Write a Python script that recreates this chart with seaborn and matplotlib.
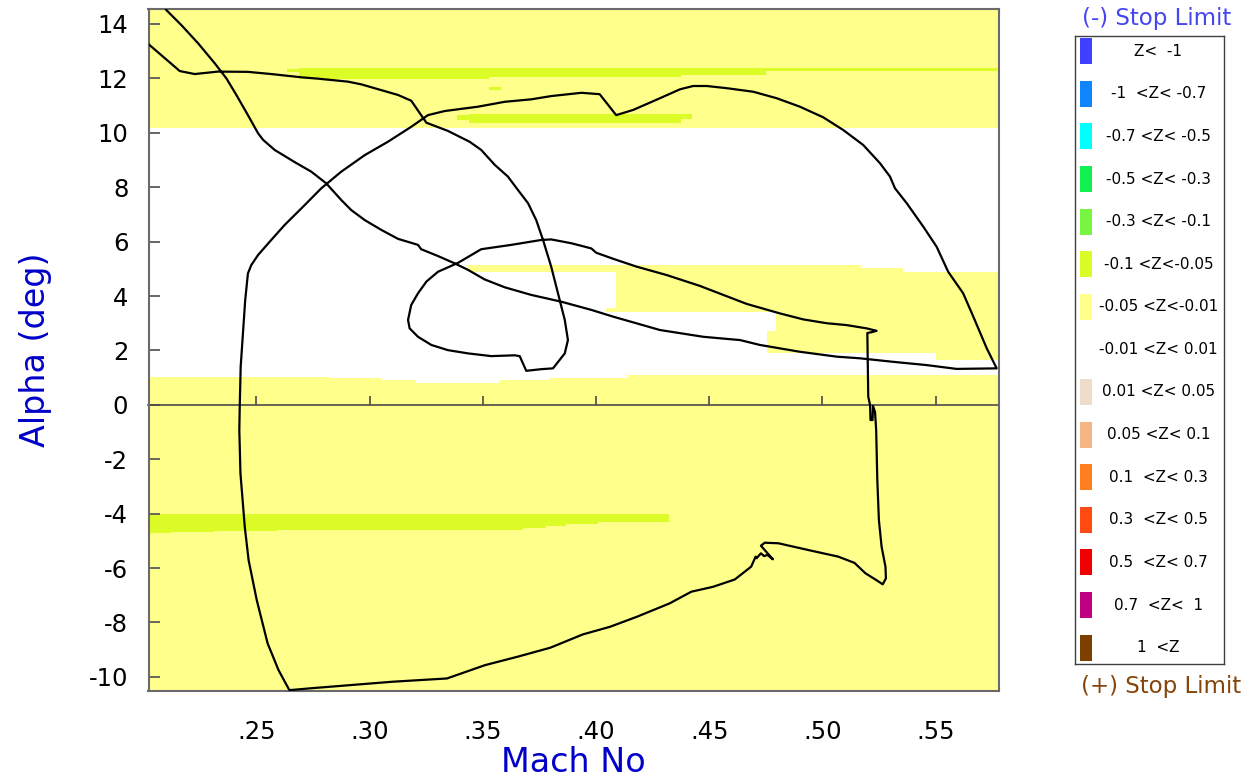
import numpy as np
import matplotlib
matplotlib.use("Agg")
import matplotlib.pyplot as plt
from matplotlib.colors import ListedColormap, BoundaryNorm
from matplotlib.patches import Rectangle
import seaborn as sns

# ---------------------------------------------------------------------------
# Flight trajectory in the Mach / angle-of-attack plane (time ordered)
# ---------------------------------------------------------------------------
mach = [
    0.2010, 0.2162, 0.2228, 0.2331, 0.2463, 0.2566, 0.2699, 0.2772, 0.2905, 0.2964,
    0.3052, 0.3126, 0.3184, 0.3251, 0.3346, 0.3442, 0.3493, 0.3553, 0.3611, 0.3655,
    0.3700, 0.3736, 0.3766, 0.3802, 0.3832, 0.3862, 0.3876, 0.3862, 0.3810, 0.3758,
    0.3692, 0.3663, 0.3641, 0.3538, 0.3435, 0.3346, 0.3273, 0.3214, 0.3177, 0.3170,
    0.3184, 0.3214, 0.3251, 0.3302, 0.3391, 0.3493, 0.3626, 0.3758, 0.3802, 0.3891,
    0.3979, 0.4001, 0.4082, 0.4179, 0.4312, 0.4459, 0.4562, 0.4665, 0.4812, 0.4915,
    0.5018, 0.5107, 0.5195, 0.5239, 0.5217, 0.5198, 0.5202, 0.5210, 0.5212, 0.5221,
    0.5223, 0.5232, 0.5237, 0.5242, 0.5249, 0.5261, 0.5278, 0.5280, 0.5266, 0.5237,
    0.5189, 0.5141, 0.5069, 0.4949, 0.4805, 0.4745, 0.4728, 0.4781, 0.4757, 0.4742,
    0.4728, 0.4709, 0.4705, 0.4685, 0.4613, 0.4517, 0.4421, 0.4325, 0.4181, 0.4062,
    0.3942, 0.3798, 0.3654, 0.3510, 0.3342, 0.3102, 0.2742, 0.2646, 0.2598, 0.2550,
    0.2502, 0.2466, 0.2449, 0.2430, 0.2425, 0.2427, 0.2431, 0.2441, 0.2451, 0.2463,
    0.2478, 0.2508, 0.2566, 0.2625, 0.2699, 0.2787, 0.2875, 0.2979, 0.3081, 0.3184,
    0.3258, 0.3332, 0.3479, 0.3597, 0.3714, 0.3802, 0.3935, 0.4016, 0.4089, 0.4164,
    0.4282, 0.4371, 0.4429, 0.4489, 0.4577, 0.4694, 0.4798, 0.4900, 0.5003, 0.5092,
    0.5180, 0.5254, 0.5298, 0.5320, 0.5372, 0.5445, 0.5504, 0.5555, 0.5621, 0.5666,
    0.5725, 0.5769, 0.5592, 0.5460, 0.5312, 0.5165, 0.5063, 0.4900, 0.4724, 0.4636,
    0.4474, 0.4282, 0.4076, 0.3979, 0.3847, 0.3714, 0.3597, 0.3508, 0.3435, 0.3376,
    0.3302, 0.3228, 0.3214, 0.3126, 0.3052, 0.2979, 0.2919, 0.2875, 0.2809, 0.2743,
    0.2670, 0.2581, 0.2530, 0.2508, 0.2463, 0.2412, 0.2368, 0.2316, 0.2243, 0.2169,
    0.2103, 0.2090,
]
alpha = [
    13.36, 12.27, 12.16, 12.25, 12.24, 12.16, 12.04, 11.99, 11.88, 11.78,
    11.57, 11.39, 11.18, 10.37, 10.07, 9.67, 9.37, 8.82, 8.39, 7.90,
    7.41, 6.79, 6.06, 5.08, 4.10, 3.12, 2.38, 1.89, 1.34, 1.31,
    1.25, 1.79, 1.82, 1.79, 1.89, 2.01, 2.20, 2.50, 2.81, 3.12,
    3.67, 4.10, 4.53, 4.89, 5.22, 5.72, 5.88, 6.06, 6.08, 5.94,
    5.75, 5.59, 5.35, 5.08, 4.77, 4.37, 4.04, 3.71, 3.36, 3.14,
    3.00, 2.93, 2.81, 2.72, 2.67, 2.64, 0.30, -0.01, -0.56, -0.56,
    -0.04, -0.27, -0.93, -2.76, -4.24, -5.22, -5.95, -6.38, -6.60, -6.44,
    -6.19, -5.81, -5.58, -5.36, -5.09, -5.07, -5.18, -5.68, -5.52, -5.56,
    -5.46, -5.64, -5.58, -5.95, -6.42, -6.69, -6.87, -7.30, -7.79, -8.16,
    -8.44, -8.93, -9.26, -9.57, -10.06, -10.18, -10.42, -10.49, -9.75, -8.77,
    -7.18, -5.71, -4.48, -2.52, -0.93, -0.01, 1.40, 2.63, 3.85, 4.83,
    5.14, 5.51, 6.06, 6.61, 7.22, 7.96, 8.57, 9.18, 9.67, 10.22,
    10.65, 10.80, 10.96, 11.14, 11.23, 11.35, 11.47, 11.42, 10.65, 10.84,
    11.27, 11.60, 11.72, 11.72, 11.64, 11.51, 11.27, 10.96, 10.57, 10.10,
    9.55, 8.88, 8.39, 7.96, 7.41, 6.55, 5.81, 4.89, 4.10, 3.24,
    2.08, 1.34, 1.32, 1.46, 1.58, 1.71, 1.77, 1.95, 2.20, 2.38,
    2.50, 2.75, 3.24, 3.49, 3.79, 4.04, 4.32, 4.61, 4.96, 5.20,
    5.47, 5.72, 5.88, 6.10, 6.43, 6.79, 7.16, 7.53, 8.14, 8.57,
    8.92, 9.37, 9.74, 9.98, 10.65, 11.39, 12.00, 12.56, 13.29, 13.96,
    14.51, 14.70,
]

# ---------------------------------------------------------------------------
# Z classes of the background field
# ---------------------------------------------------------------------------
z_bounds = [-2.0, -1.0, -0.7, -0.5, -0.3, -0.1, -0.05, -0.01,
            0.01, 0.05, 0.1, 0.3, 0.5, 0.7, 1.0, 2.0]
z_labels = ["Z<  -1", "-1  <Z< -0.7", "-0.7 <Z< -0.5", "-0.5 <Z< -0.3",
            "-0.3 <Z< -0.1", "-0.1 <Z<-0.05", "-0.05 <Z<-0.01", "-0.01 <Z< 0.01",
            "0.01 <Z< 0.05", "0.05 <Z< 0.1", "0.1  <Z< 0.3", "0.3  <Z< 0.5",
            "0.5  <Z< 0.7", "0.7  <Z<  1", "1  <Z"]
z_colors = ["#4040FF", "#1185FF", "#00FFFF", "#10F050", "#77F542", "#DCFC28",
            "#FFFF8C", "#FFFFFF", "#EFDCCB", "#F4B684", "#FF7F20", "#FF4B12",
            "#F00000", "#BF0080", "#7B3F00"]

# Z field on the Mach/alpha grid, given as rectangular patches (later ones win)
patch_mach_lo = [0.20, 0.2631, 0.2684, 0.3523, 0.4370, 0.4746, 0.3523, 0.3383, 0.3435, 0.4371,
                 0.3430, 0.4085, 0.5165, 0.5351, 0.4042, 0.4792, 0.4749, 0.5496,
                 0.20, 0.2817, 0.3046, 0.3201, 0.3567, 0.3788, 0.4137,
                 0.20, 0.2119, 0.2309, 0.2587, 0.3673, 0.3775, 0.3863, 0.4004]
patch_mach_hi = [0.58, 0.2684, 0.3523, 0.4370, 0.4746, 0.58, 0.3575, 0.3435, 0.4371, 0.4418,
                 0.4085, 0.5165, 0.5351, 0.58, 0.4085, 0.58, 0.58, 0.58,
                 0.2817, 0.3046, 0.3201, 0.3567, 0.3788, 0.4137, 0.58,
                 0.2119, 0.2309, 0.2587, 0.3673, 0.3775, 0.3863, 0.4004, 0.4318]
patch_alpha_lo = [10.17, 12.23, 11.97, 12.06, 12.12, 12.27, 11.57, 10.47, 10.35, 10.51,
                  4.89, 3.42, 3.42, 3.42, 3.42, 2.69, 1.89, 1.65,
                  -10.6, -10.6, -10.6, -10.6, -10.6, -10.6, -10.6,
                  -4.72, -4.67, -4.63, -4.60, -4.54, -4.47, -4.39, -4.32]
patch_alpha_hi = [14.6, 12.34, 12.37, 12.37, 12.37, 12.38, 11.66, 10.65, 10.68, 10.68,
                  5.14, 5.14, 5.03, 4.89, 3.55, 3.42, 2.69, 1.89,
                  1.03, 0.97, 0.91, 0.79, 0.91, 0.97, 1.08,
                  -4.0, -4.0, -4.0, -4.0, -4.0, -4.0, -4.0, -4.0]
patch_z = [-0.03, -0.07, -0.07, -0.07, -0.07, -0.07, -0.07, -0.07, -0.07, -0.07,
           -0.03, -0.03, -0.03, -0.03, -0.03, -0.03, -0.03, -0.03,
           -0.03, -0.03, -0.03, -0.03, -0.03, -0.03, -0.03,
           -0.07, -0.07, -0.07, -0.07, -0.07, -0.07, -0.07, -0.07]

mach_ticks = [0.25, 0.30, 0.35, 0.40, 0.45, 0.50, 0.55]
mach_tick_labels = [".25", ".30", ".35", ".40", ".45", ".50", ".55"]
alpha_ticks = [-10, -8, -6, -4, -2, 0, 2, 4, 6, 8, 10, 12, 14]
alpha_tick_labels = ["-10", "-8", "-6", "-4", "-2", "0", "2", "4", "6", "8", "10", "12", "14"]

mach_lim = (0.2024, 0.5778)
alpha_lim = (-10.51, 14.54)

# ---------------------------------------------------------------------------
sns.set_theme(style="white")
plt.rcParams["font.family"] = ["DejaVu Sans"]
plt.rcParams["axes.unicode_minus"] = False

W, H = 1250, 777
fig = plt.figure(figsize=(W / 100, H / 100), dpi=100)
fig.patch.set_facecolor("white")

ax_l, ax_r, ax_t, ax_b = 148.5, 998.7, 9.3, 690.7
ax = fig.add_axes([ax_l / W, 1 - ax_b / H, (ax_r - ax_l) / W, (ax_b - ax_t) / H])

# background Z field
gx = np.linspace(mach_lim[0], mach_lim[1], 1900)
gy = np.linspace(alpha_lim[0], alpha_lim[1], 1400)
MX, AY = np.meshgrid(gx, gy)
Z = np.zeros_like(MX)
for m0, m1, a0, a1, zv in zip(patch_mach_lo, patch_mach_hi,
                              patch_alpha_lo, patch_alpha_hi, patch_z):
    Z[(MX >= m0) & (MX < m1) & (AY >= a0) & (AY < a1)] = zv

cmap = ListedColormap(z_colors)
norm = BoundaryNorm(z_bounds, cmap.N)
ax.imshow(Z, extent=(mach_lim[0], mach_lim[1], alpha_lim[0], alpha_lim[1]),
          origin="lower", aspect="auto", cmap=cmap, norm=norm,
          interpolation="nearest", zorder=0)

# trajectory
traj = {"Mach": mach, "Alpha": alpha}
sns.lineplot(x="Mach", y="Alpha", data=traj, sort=False, estimator=None,
             color="black", linewidth=1.6, ax=ax, zorder=3)

ax.set_xlim(*mach_lim)
ax.set_ylim(*alpha_lim)

# axes frame and ticks
for s in ax.spines.values():
    s.set_visible(True)
    s.set_color("#6a6a6a")
    s.set_linewidth(1.5)

ax.set_xticks(mach_ticks)
ax.set_xticklabels(mach_tick_labels)
ax.set_yticks(alpha_ticks)
ax.set_yticklabels(alpha_tick_labels)
ax.tick_params(axis="x", length=0, pad=21.3, labelsize=17.5, labelcolor="black")
ax.tick_params(axis="y", direction="in", length=8, width=1.3, color="#5a5a5a",
               pad=14.5, labelsize=17.5, labelcolor="black", left=True)

# Mach axis drawn along alpha = 0
zero_frac = (0 - alpha_lim[0]) / (alpha_lim[1] - alpha_lim[0])
sec = ax.secondary_xaxis(zero_frac)
sec.set_xticks(mach_ticks)
sec.tick_params(axis="x", direction="in", length=6.5, width=1.2, color="#4a4a4a",
                labelbottom=False, labeltop=False, bottom=True)
for name, s in sec.spines.items():
    s.set_visible(name == "bottom")
sec.spines["bottom"].set_color("#4a4a4a")
sec.spines["bottom"].set_linewidth(1.2)
sec.set_zorder(2)

ax.set_xlabel("Mach No", fontsize=24, color="#0000C8")
ax.set_ylabel("Alpha (deg)", fontsize=24, color="#0000C8")
ax.xaxis.set_label_coords(0.5, -0.0812)
ax.yaxis.set_label_coords(-0.113, 0.5)

# ---------------------------------------------------------------------------
# Z class legend
# ---------------------------------------------------------------------------
lg_l, lg_r, lg_t, lg_b = 1074.5, 1224.3, 36.0, 664.0
lax = fig.add_axes([lg_l / W, 1 - lg_b / H, (lg_r - lg_l) / W, (lg_b - lg_t) / H])
lax.set_xlim(0, lg_r - lg_l)
lax.set_ylim(lg_b - lg_t, 0)
lax.set_xticks([])
lax.set_yticks([])
lax.set_facecolor("white")
for s in lax.spines.values():
    s.set_visible(True)
    s.set_color("#404040")
    s.set_linewidth(1.0)

step = 42.6
for i, (lab, col) in enumerate(zip(z_labels, z_colors)):
    yc = 15.2 + i * step
    lax.add_patch(Rectangle((5.5, yc - 13), 12, 26, facecolor=col, edgecolor="none"))
    lax.text(84, yc, lab, ha="center", va="center", fontsize=11, color="black")

fig.text(1157 / W, 1 - 18 / H, "(-) Stop Limit", ha="center", va="center",
         fontsize=16.5, color="#4646F0")
fig.text(1161 / W, 1 - 686 / H, "(+) Stop Limit", ha="center", va="center",
         fontsize=16.5, color="#86450C")

fig.savefig("out.png", dpi=100, facecolor="white")
